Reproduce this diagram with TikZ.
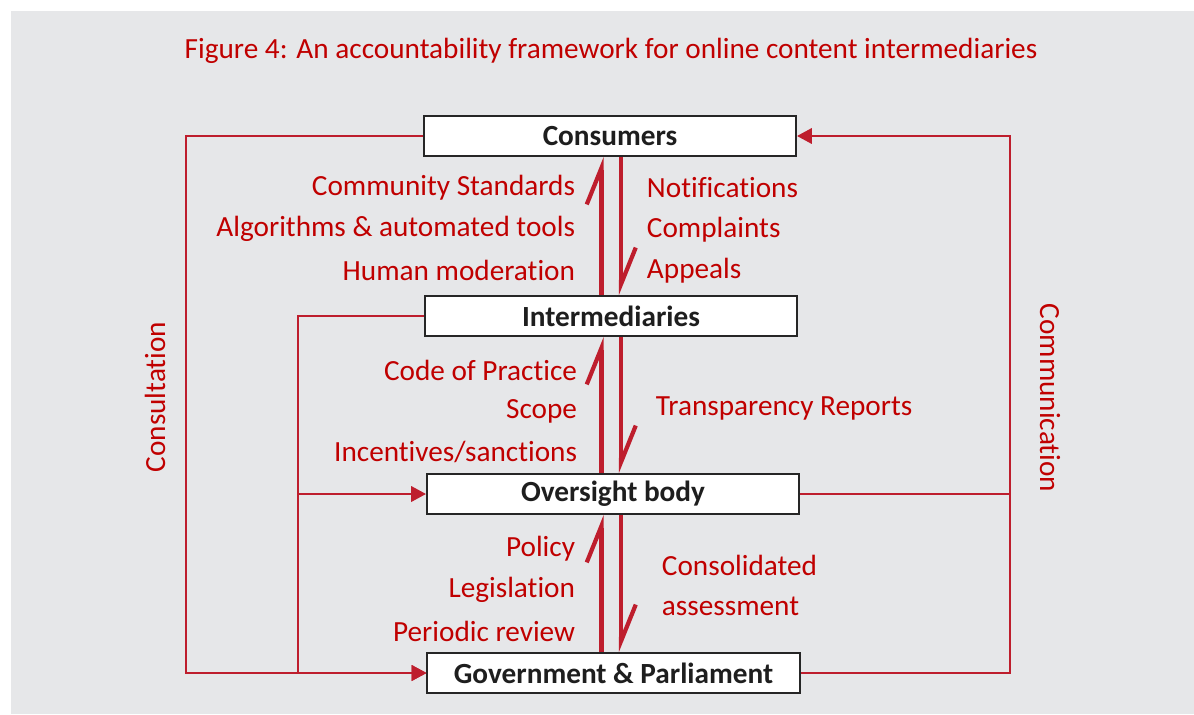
\documentclass[tikz,border=0pt]{standalone}
\usepackage{fontspec}
\setmainfont{Carlito}[Ligatures=NoCommon]
\usetikzlibrary{arrows.meta,calc,positioning}
\definecolor{FrameRed}{RGB}{190,30,45}
\definecolor{LabelRed}{RGB}{192,0,0}
\definecolor{PanelGrey}{RGB}{230,231,233}
\definecolor{BoxEdge}{RGB}{38,38,38}
\definecolor{BoxText}{RGB}{30,30,30}

\begin{document}
\begin{tikzpicture}[
    x=0.025cm, y=-0.025cm,
    font=\fontsize{20.8}{25}\selectfont,
    level/.style={
        draw=BoxEdge,
        line width=1.4pt,
        fill=white,
        minimum width=9.3cm,
        minimum height=1cm,
        inner sep=0pt,
        font=\fontsize{20.8}{25}\selectfont\bfseries,
        text=BoxText
    },
    channel/.style={draw=FrameRed, line width=1.4pt},
    feed/.style={channel, -{Triangle[length=10.5pt,width=11pt]}},
    flow/.style={draw=FrameRed, line width=3pt,
                 -{Straight Barb[left,length=26pt,width=21pt]}},
    lhs/.style={anchor=east, text=LabelRed},
    rhs/.style={anchor=west, text=LabelRed}
]

% Background panel
\fill[PanelGrey] (11,11) rectangle (1194,714);
\useasboundingbox (0,0) rectangle (1194,715);

% Title
\node[text=LabelRed] (title) at (611,51)
    {Figure 4: An accountability framework for online content intermediaries};

% Levels of the framework
\node[level] (consumers) at (610,136) {Consumers};
\node[level] (intermediaries) at (611,316) {Intermediaries};
\node[level] (oversight) at (613,494) {Oversight body};
\node[level] (government) at (613.5,673) {Government \& Parliament};

% Two-way flows between neighbouring levels
\coordinate (upx) at (601.5,0);
\coordinate (downx) at (621,0);
\foreach \lower/\upper in {intermediaries/consumers, oversight/intermediaries,
                           government/oversight}{
    \draw[flow] (upx |- \lower.north) -- (upx |- \upper.south);
    \draw[flow] (downx |- \upper.south) -- (downx |- \lower.north);
}

% Flow labels
\node[lhs] (standards) at (580,188) {Community Standards};
\node[lhs] (algorithms) at (580,229) {Algorithms \& automated tools};
\node[lhs] (moderation) at (580,270) {Human moderation};
\node[rhs] (notifications) at (642,188) {Notifications};
\node[rhs] (complaints) at (642,230) {Complaints};
\node[rhs] (appeals) at (642,271) {Appeals};

\node[lhs] (code) at (582,370) {Code of Practice};
\node[lhs] (scope) at (582,411) {Scope};
\node[lhs] (incentives) at (582,452) {Incentives/sanctions};
\node[rhs] (transparency) at (651,408) {Transparency Reports};

\node[lhs] (policy) at (580,549) {Policy};
\node[lhs] (legislation) at (580,590) {Legislation};
\node[lhs] (review) at (580,631) {Periodic review};
\node[rhs] (consolidated) at (657,565) {Consolidated};
\node[rhs] (assessment) at (657,606) {assessment};

% Consultation loop (left)
\coordinate (consultx) at (186,0);
\draw[feed] (consumers.west) -- (consultx |- consumers.west)
    -- (consultx |- government.west) -- (government.west);
\node[text=LabelRed, rotate=90] (consultation) at (155,397) {Consultation};

\coordinate (branchx) at (298,0);
\draw[channel] (intermediaries.west) -- (branchx |- intermediaries.west)
    -- (branchx |- government.west);
\draw[feed] (branchx |- oversight.west) -- (oversight.west);
\draw[feed] (branchx |- government.west) -- (government.west);

% Communication loop (right)
\coordinate (commx) at (1010,0);
\draw[channel] (oversight.east) -- (commx |- oversight.east);
\draw[feed] (government.east) -- (commx |- government.east)
    -- (commx |- consumers.east) -- (consumers.east);
\node[text=LabelRed, rotate=-90] (communication) at (1050,398) {Communication};

\end{tikzpicture}
\end{document}
